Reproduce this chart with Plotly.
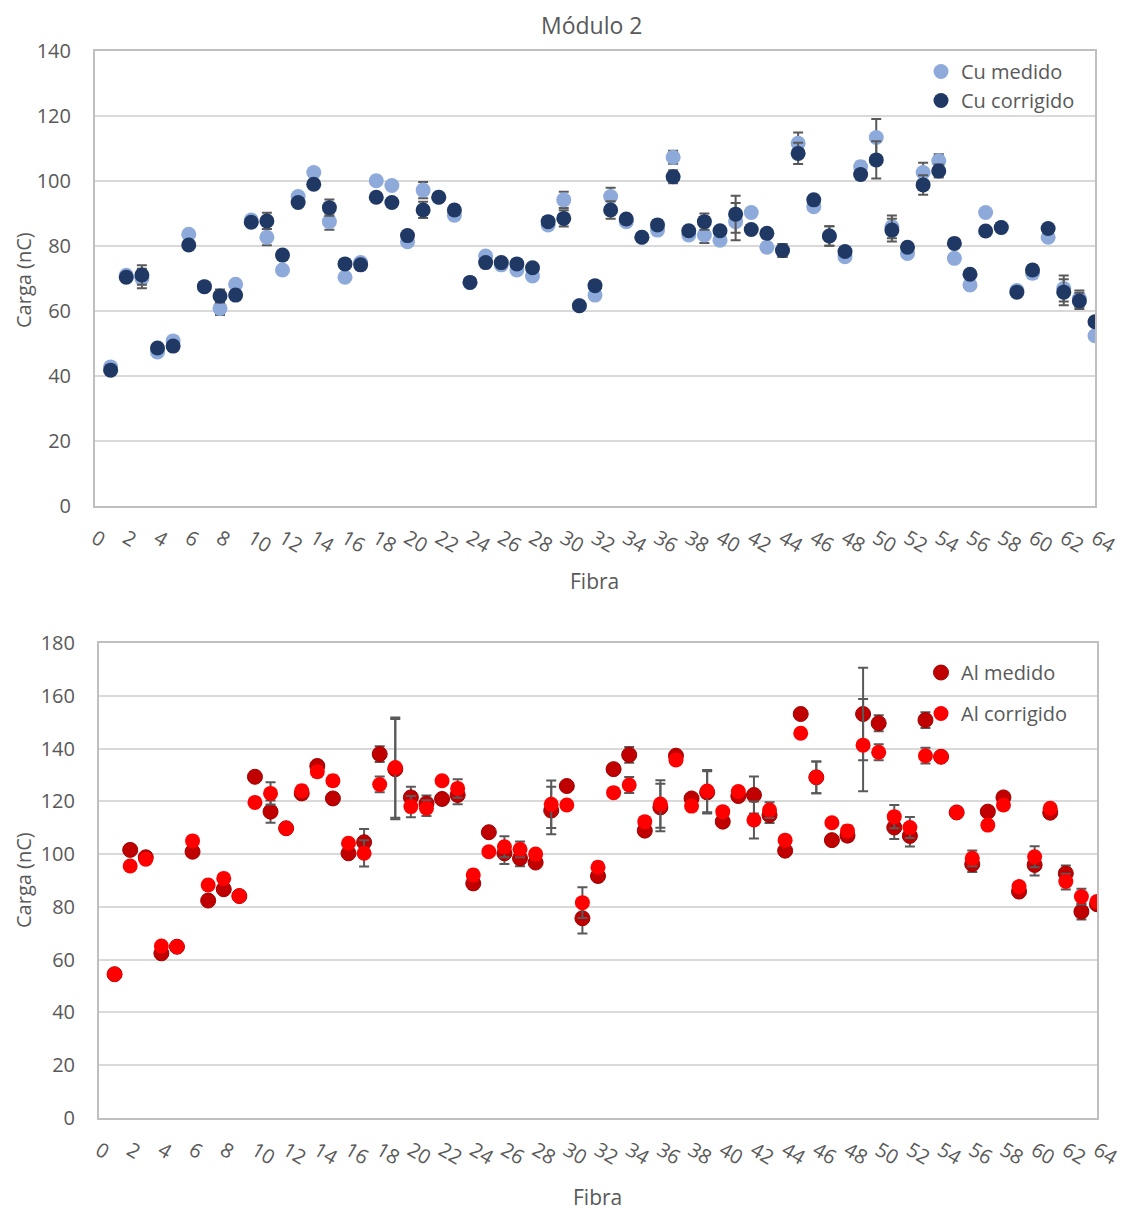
import plotly.graph_objects as go

fibra = list(range(1, 65))

cu_medido = [42.8, 71.0, 70.0, 47.4, 50.8, 83.6, 67.5, 60.8, 68.2, 88.0,
             82.7, 72.6, 95.2, 102.6, 87.5, 70.4, 74.9, 100.1, 98.6, 81.3,
             97.2, 95.0, 89.5, 68.8, 76.9, 74.2, 72.6, 70.8, 86.5, 94.2,
             61.6, 64.9, 95.2, 87.5, 82.7, 84.9, 107.3, 83.4, 83.4, 81.8,
             87.5, 90.3, 79.6, 78.6, 111.6, 92.1, 83.1, 76.7, 104.4, 113.4,
             85.9, 77.7, 102.6, 106.2, 76.2, 68.0, 90.3, 85.7, 66.3, 71.6,
             82.7, 66.9, 63.8, 52.4]

cu_corrigido = [41.8, 70.4, 71.1, 48.6, 49.2, 80.3, 67.5, 64.6, 64.9, 87.3,
                87.7, 77.2, 93.4, 99.0, 91.8, 74.5, 74.2, 95.0, 93.4, 83.2,
                91.1, 95.0, 91.1, 68.8, 74.9, 74.9, 74.5, 73.3, 87.5, 88.5,
                61.6, 67.8, 91.1, 88.3, 82.7, 86.5, 101.3, 84.7, 87.5, 84.7,
                89.8, 85.1, 83.9, 78.6, 108.5, 94.2, 83.1, 78.3, 102.0, 106.5,
                84.9, 79.6, 98.8, 103.1, 80.8, 71.3, 84.6, 85.7, 65.8, 72.6,
                85.4, 65.8, 63.1, 56.7]

cu_erro = [0.8, 0.8, 3.0, 0.8, 0.8, 0.8, 0.8, 2.0, 0.8, 0.8,
           2.5, 0.8, 1.0, 0.8, 2.5, 0.8, 0.8, 0.8, 0.8, 0.8,
           2.5, 0.8, 1.5, 0.8, 0.8, 0.8, 0.8, 0.8, 0.8, 2.5,
           0.8, 0.8, 2.7, 0.8, 0.8, 1.5, 2.0, 0.8, 2.5, 0.8,
           5.7, 0.8, 0.8, 2.0, 3.3, 0.8, 3.0, 0.8, 1.5, 5.7,
           3.5, 0.8, 3.0, 2.0, 0.8, 0.8, 0.8, 1.0, 0.8, 1.5,
           0.8, 4.0, 2.5, 0.8]

al_medido = [54.5, 101.6, 98.8, 62.4, 64.9, 100.9, 82.4, 86.7, 84.1, 129.3,
             116.1, 109.8, 123.0, 133.4, 121.1, 100.3, 104.5, 137.9, 132.2, 121.5,
             119.2, 120.9, 122.4, 88.9, 108.3, 100.3, 98.4, 96.8, 116.5, 125.8,
             75.7, 91.7, 132.2, 137.6, 108.9, 117.7, 137.3, 121.1, 123.4, 112.3,
             122.0, 122.4, 114.8, 101.3, 153.1, 129.1, 105.3, 107.0, 153.1, 149.6,
             110.1, 106.9, 150.8, 136.9, 115.8, 96.2, 116.1, 121.5, 85.8, 95.9,
             115.7, 92.7, 78.2, 81.0]

al_corrigido = [54.5, 95.5, 98.1, 65.2, 64.9, 105.0, 88.3, 90.8, 84.1, 119.6,
                123.0, 109.8, 124.0, 131.2, 127.8, 104.1, 100.3, 126.4, 132.8, 118.0,
                117.4, 127.8, 124.9, 92.1, 100.9, 102.8, 101.8, 100.0, 118.9, 118.6,
                81.6, 95.0, 123.3, 126.2, 112.3, 119.0, 135.7, 118.2, 123.9, 116.1,
                123.7, 112.9, 116.7, 105.3, 145.8, 129.1, 111.9, 108.8, 141.3, 138.6,
                114.2, 110.1, 137.3, 136.9, 115.8, 98.4, 111.0, 118.6, 87.7, 99.0,
                117.4, 89.6, 83.9, 82.0]

al_erro = [1.5, 1.0, 1.5, 1.0, 1.0, 1.0, 1.0, 1.0, 1.5, 1.0,
           4.2, 1.5, 2.0, 2.0, 2.0, 1.0, 5.0, 3.0, 19.0, 4.0,
           3.0, 1.0, 3.5, 2.0, 1.0, 4.0, 3.0, 1.0, 9.0, 1.0,
           5.8, 2.0, 1.0, 3.0, 1.0, 9.0, 1.0, 1.0, 8.0, 1.0,
           1.0, 7.0, 3.0, 1.0, 1.0, 6.0, 1.0, 2.0, 17.5, 3.0,
           4.4, 4.0, 3.0, 1.0, 1.0, 3.0, 1.0, 1.0, 1.0, 4.0,
           1.0, 3.0, 3.0, 1.0]

x_ticks = list(range(0, 65, 2))

FONT = "'Open Sans', Lato, sans-serif"
TXT = "#595959"
ERR = dict(type="data", visible=True, color="#595959", thickness=2, width=5)

fig = go.Figure()

fig.add_trace(go.Scatter(x=fibra, y=cu_medido, mode="markers", name="Cu medido",
                         marker=dict(color="#8EAADB", size=15),
                         error_y=dict(array=cu_erro, **ERR),
                         xaxis="x", yaxis="y", legend="legend", legendgroup="a"))
fig.add_trace(go.Scatter(x=fibra, y=cu_corrigido, mode="markers", name="Cu corrigido",
                         marker=dict(color="#1F3864", size=15),
                         error_y=dict(array=cu_erro, **ERR),
                         xaxis="x", yaxis="y", legend="legend", legendgroup="b"))
fig.add_trace(go.Scatter(x=fibra, y=al_medido, mode="markers", name="Al medido",
                         marker=dict(color="#C00000", size=15, line=dict(color="#A00000", width=1)),
                         error_y=dict(array=al_erro, **ERR),
                         xaxis="x2", yaxis="y2", legend="legend2", legendgroup="c"))
fig.add_trace(go.Scatter(x=fibra, y=al_corrigido, mode="markers", name="Al corrigido",
                         marker=dict(color="#FF0000", size=15),
                         error_y=dict(array=al_erro, **ERR),
                         xaxis="x2", yaxis="y2", legend="legend2", legendgroup="d"))

# page body has an 8px default margin: size the figure to fit and offset coordinates
OFF = 8
W, H = 1126 - OFF, 1212 - OFF


def px(x):
    return (x - OFF) / W


def py(y):
    return 1 - (y - OFF) / H


axis_common = dict(showline=True, linecolor="#BFBFBF", linewidth=2, mirror=True,
                   zeroline=False, ticks="", automargin=False,
                   tickfont=dict(family=FONT, size=20, color=TXT))


def ann(text, x, y, size, angle=0):
    return dict(text=text, x=px(x), y=py(y), xref="paper", yref="paper",
                xanchor="center", yanchor="middle", showarrow=False,
                textangle=angle, font=dict(family=FONT, size=size, color=TXT))


fig.update_layout(
    template="none",
    width=W, height=H,
    margin=dict(l=0, r=0, t=0, b=0, autoexpand=False),
    paper_bgcolor="white", plot_bgcolor="white",
    font=dict(family=FONT, color=TXT),
    xaxis=dict(domain=[px(95), px(1095)], range=[0, 64], tickvals=x_ticks,
               tickangle=30, showgrid=False, anchor="y", ticklabelstandoff=11,
               **axis_common),
    yaxis=dict(domain=[py(506), py(51)], range=[0, 140], dtick=20,
               showgrid=True, gridcolor="#D9D9D9", gridwidth=2, anchor="x",
               ticklabelstandoff=18, **axis_common),
    xaxis2=dict(domain=[px(99), px(1097)], range=[0, 64], tickvals=x_ticks,
                tickangle=30, showgrid=False, anchor="y2", ticklabelstandoff=11,
                **axis_common),
    yaxis2=dict(domain=[py(1118), py(643)], range=[0, 180], dtick=20,
                showgrid=True, gridcolor="#D9D9D9", gridwidth=2, anchor="x2",
                ticklabelstandoff=18, **axis_common),
    legend=dict(x=px(921), y=py(52), xanchor="left", yanchor="top",
                bgcolor="rgba(0,0,0,0)", font=dict(family=FONT, size=20, color=TXT),
                tracegroupgap=0, itemclick=False),
    legend2=dict(x=px(921), y=py(653), xanchor="left", yanchor="top",
                 bgcolor="rgba(0,0,0,0)", font=dict(family=FONT, size=20, color=TXT),
                 tracegroupgap=12, itemclick=False),
    showlegend=True,
    annotations=[
        ann("Módulo 2", 591, 25, 23),
        ann("Fibra", 594, 581, 21),
        ann("Fibra", 597, 1197, 21),
        ann("Carga (nC)", 23, 280, 20, -90),
        ann("Carga (nC)", 23, 880, 20, -90),
    ],
)

fig.write_html("out.html")
